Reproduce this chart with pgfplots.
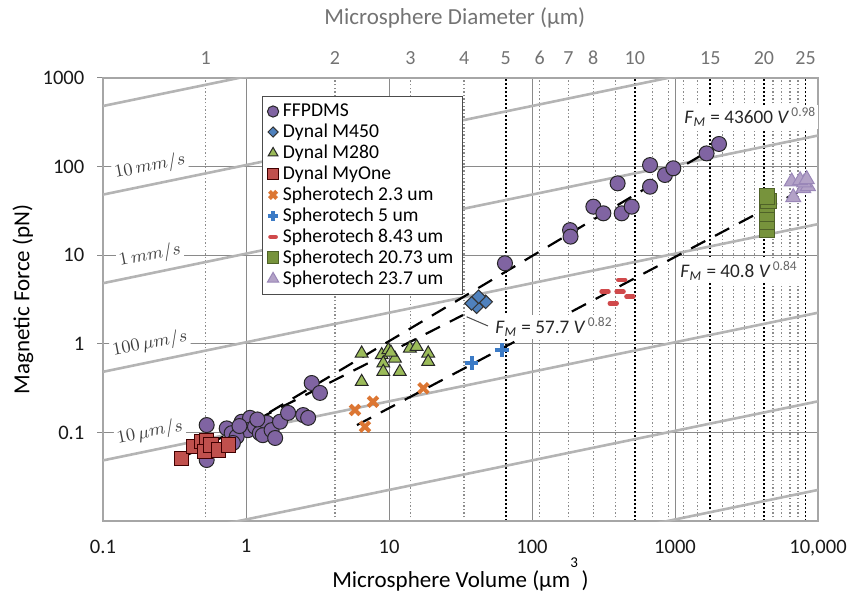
\documentclass[border=0pt]{standalone}
\usepackage{pgfplots}
\pgfplotsset{compat=1.18}
\usepackage{fontspec}
\setmainfont{Carlito}
\definecolor{cPurple}{HTML}{8064A2}
\definecolor{cBlue}{HTML}{4F81BD}
\definecolor{cGreen}{HTML}{9BBB59}
\definecolor{cRed}{HTML}{C0504D}
\definecolor{cOrange}{HTML}{DC7633}
\definecolor{cBlue2}{HTML}{3C7BC6}
\definecolor{cRed2}{HTML}{D0494B}
\definecolor{cOlive}{HTML}{77933C}
\definecolor{cOliveD}{HTML}{4F6228}
\definecolor{cLav}{HTML}{B3A2C7}
\definecolor{cLavD}{HTML}{9A87B8}
\definecolor{stokes}{HTML}{B4B4B4}
\definecolor{gridc}{HTML}{8A8A8A}
\definecolor{dotc}{HTML}{8C8C8C}
\begin{document}
\begin{tikzpicture}
% ---------- top axis: diameter scale with dotted grid ----------
\begin{axis}[
  name=top, scale only axis, width=357.5bp, height=221.5bp,
  xmode=log, ymode=log, xmin=0.1, xmax=10000, ymin=0.01, ymax=1000,
  axis x line*=top, axis y line=none, xtick pos=top,
  xminorticks=false, yminorticks=false,
  xtick={0.5236,4.18879,14.1372,33.5103,113.097,179.594,268.083,381.704,696.910,904.779,1150.35,1436.76,2144.66,2572.44,3053.63,3591.36,4849.05,5575.28,6370.63,7238.23},
  xticklabels={1,2,3,4,6,7,8,,,,,,,,,,,,,},
  extra x ticks={65.4498,523.599,1767.15,4188.79,8181.23},
  extra x tick labels={5,10,15,20,25},
  xmajorgrids=true,
  major grid style={draw=dotc, line width=0.6bp, dash pattern=on 0.7bp off 1.1bp},
  extra x tick style={grid=major, major grid style={draw=black, line width=0.95bp, dash pattern=on 0.9bp off 1.1bp}},
  xtick style={draw=none},
  axis line style={draw=gray!60, line width=0.6bp},
  xticklabel style={font=\fontsize{10bp}{12bp}\selectfont, text=black!55, yshift=3bp},
  xlabel={Microsphere Diameter (µm)},
  xlabel style={font=\fontsize{11.5bp}{13bp}\selectfont, text=black!55, at={(axis description cs:0.492,1.135)}, anchor=center},
]
\addplot[draw=none, forget plot] coordinates {(1,1)};
\end{axis}
% ---------- main axis ----------
\begin{axis}[
  name=main, scale only axis, width=357.5bp, height=221.5bp,
  xmode=log, ymode=log, xmin=0.1, xmax=10000, ymin=0.01, ymax=1000,
  xminorticks=false, yminorticks=false,
  xtick={0.1,1,10,100,1000,10000},
  xticklabels={0.1,1,10,100,1000,{10,000}},
  ytick={0.1,1,10,100,1000},
  yticklabels={0.1,1,10,100,1000},
  xtick pos=bottom, ytick pos=left,
  grid=major, grid style={draw=gridc, line width=0.5bp},
  axis line style={draw=gray!70, line width=0.6bp},
  xtick style={draw=none},
  ytick style={draw=gridc, line width=0.5bp},
  tick align=outside, major tick length=2.8bp,
  ticklabel style={font=\fontsize{10.3bp}{12bp}\selectfont, text=black!90},
  xticklabel style={yshift=-3bp},
  yticklabel style={xshift=-3bp},
  xlabel={Microsphere Volume (µm\raisebox{0.85em}{\fontsize{7.5bp}{8bp}\selectfont 3}\,)},
  xlabel style={font=\fontsize{11.5bp}{13bp}\selectfont, at={(axis description cs:0.5,-0.149)}, anchor=base},
  ylabel={Magnetic Force (pN)},
  ylabel style={font=\fontsize{11.5bp}{13bp}\selectfont, at={(axis description cs:-0.112,0.5)}, anchor=center},
  legend style={at={(rel axis cs:0.222,0.959)}, anchor=north west, draw=black!70, line width=0.5bp, fill=white,
    font=\fontsize{9.8bp}{10.6bp}\selectfont, inner xsep=2.5bp, inner ysep=1.5bp, row sep=-1.8bp},
  legend cell align=left,
  legend image code/.code={\draw[mark repeat=2,mark phase=2,#1, every mark/.append style={scale=0.75}] plot coordinates {(0bp,0bp) (3.7bp,0bp) (7.4bp,0bp)};},
]
% Stokes drag constant-velocity lines
\addplot[draw=stokes, line width=1.3bp, forget plot] coordinates {(0.1,483) (10000,22420)};
\addplot[draw=stokes, line width=1.3bp, forget plot] coordinates {(0.1,48.3) (10000,2242)};
\addplot[draw=stokes, line width=1.3bp, forget plot] coordinates {(0.1,4.83) (10000,224.2)};
\addplot[draw=stokes, line width=1.3bp, forget plot] coordinates {(0.1,0.483) (10000,22.42)};
\addplot[draw=stokes, line width=1.3bp, forget plot] coordinates {(0.1,0.0483) (10000,2.242)};
\addplot[draw=stokes, line width=1.3bp, forget plot] coordinates {(0.1,0.00483) (10000,0.2242)};
\addplot[draw=stokes, line width=1.3bp, forget plot] coordinates {(0.1,0.000483) (10000,0.02242)};

% FFPDMS
\addplot[only marks, mark=*, mark size=3.75bp, mark options={fill=cPurple, draw=black!85, line width=0.5bp}] coordinates {
(0.531,0.121) (0.531,0.0488) (0.733,0.111) (0.794,0.098) (0.933,0.132) (1.067,0.146) (1.03,0.106)
(1.156,0.116) (1.25,0.098) (1.40,0.128) (1.31,0.093) (1.51,0.106) (1.60,0.0865) (1.73,0.132)
(1.97,0.166) (2.51,0.157) (2.72,0.146) (2.88,0.361) (3.29,0.279) (0.861,0.0895) (0.81,0.076)
(0.9,0.118) (1.2,0.14)
(64.7,8.1) (184.5,19.2) (186,16.2) (268.6,35.3) (315.5,29.7) (397,64.7) (424,29.7) (498,35.3)
(669,104) (669,59.3) (851,80.4) (973,95.7) (1663,141) (2031,180)};
\addlegendentry{FFPDMS}
% Dynal M450
\addplot[only marks, mark=square*, mark size=2.4bp, mark options={rotate=45, fill=cBlue, draw=black!80, line width=0.5bp}] coordinates {
(41.0,2.62) (37.8,2.86) (47.4,2.98) (42.3,3.40)};
\addlegendentry{Dynal M450}
% Dynal M280
\addplot[only marks, mark=triangle*, mark size=3.7bp, mark options={fill=cGreen, draw=black!85, line width=0.5bp}] coordinates {
(6.44,0.78) (6.44,0.373) (8.89,0.748) (9.12,0.603) (9.12,0.484) (9.89,0.851) (11.0,0.685)
(11.9,0.484) (14.0,0.889) (15.6,0.929) (18.8,0.78) (18.8,0.628) (10.3,0.80)};
\addlegendentry{Dynal M280}
% Dynal MyOne
\addplot[only marks, mark=square*, mark size=3.6bp, mark options={fill=cRed, draw=black!75!red, line width=0.5bp}] coordinates {
(0.355,0.051) (0.428,0.069) (0.49,0.0786) (0.53,0.08) (0.516,0.0605) (0.57,0.072) (0.64,0.0632) (0.752,0.072)};
\addlegendentry{Dynal MyOne}
% Spherotech 2.3
\addplot[only marks, mark=x, mark size=3.4bp, mark options={draw=cOrange, line width=2bp}] coordinates {
(5.78,0.179) (7.73,0.222) (6.79,0.116) (17.4,0.315)};
\addlegendentry{Spherotech 2.3 um}
% Spherotech 5
\addplot[only marks, mark=+, mark size=3.4bp, mark options={draw=cBlue2, line width=2bp}] coordinates {
(37.8,0.603) (61.4,0.851)};
\addlegendentry{Spherotech 5 um}
% Spherotech 8.43
\addplot[only marks, mark=-, mark size=1.7bp, mark options={draw=cRed2, line width=2.3bp, line cap=round}] coordinates {
(324,3.87) (370,2.87) (413,3.87) (424,5.25) (484,3.40)};
\addlegendentry{Spherotech 8.43 um}
% Spherotech 20.73
\addplot[only marks, mark=square*, mark size=3.9bp, mark options={fill=cOlive, draw=cOliveD, line width=0.5bp}] coordinates {
(4395,19.2) (4395,23.9) (4395,29.7) (4395,36.9) (4500,41) (4395,45.7)};
\addlegendentry{Spherotech 20.73 um}
% Spherotech 23.7
\addplot[only marks, mark=triangle*, mark size=4.3bp, mark options={fill=cLav, draw=cLavD, line width=0.5bp}] coordinates {
(6714,45) (7889,56.9) (8500,60) (6546,67.6) (8000,66) (7500,70) (8337,72)};
\addlegendentry{Spherotech 23.7 um}

% power-law fits
\addplot[black, line width=1.1bp, dash pattern=on 8bp off 5.5bp, forget plot] coordinates {(0.476,0.0574) (1905,166)};
\addplot[black, line width=1.1bp, dash pattern=on 8bp off 5.5bp, forget plot] coordinates {(0.374,0.054) (32.9,2.11)};
\addplot[black, line width=1.1bp, dash pattern=on 8bp off 5.5bp, forget plot] coordinates {(5.97,0.121) (7245,51.7)};

% leader
\draw[black!70, line width=0.5bp] (axis cs:34.9,2.02) -- (axis cs:49.2,1.59);

% velocity labels
\node[rotate=11, fill=white, inner sep=1bp, text=black!75, font=\fontsize{9bp}{9bp}\selectfont] at (axis cs:0.213,100) {$10\,mm/s$};
\node[rotate=11, fill=white, inner sep=1bp, text=black!75, font=\fontsize{9bp}{9bp}\selectfont] at (axis cs:0.213,10) {$1\,mm/s$};
\node[rotate=11, fill=white, inner sep=1bp, text=black!75, font=\fontsize{9bp}{9bp}\selectfont] at (axis cs:0.213,1) {$100\,\mu m/s$};
\node[rotate=11, fill=white, inner sep=1bp, text=black!75, font=\fontsize{9bp}{9bp}\selectfont] at (axis cs:0.213,0.1) {$10\,\mu m/s$};

% fit equations
\node[anchor=west, fill=white, inner sep=1bp, text=black!85, font=\fontsize{9.6bp}{10bp}\selectfont] at (axis cs:1119,363) {\textit{F}\textsubscript{\textit{M}} = 43600 \textit{V}\textsuperscript{\textcolor{black!60}{\,0.98}}};
\node[anchor=west, fill=white, inner sep=1bp, text=black!85, font=\fontsize{9.6bp}{10bp}\selectfont] at (axis cs:1050,6.64) {\textit{F}\textsubscript{\textit{M}} = 40.8 \textit{V}\textsuperscript{\textcolor{black!60}{\,0.84}}};
\node[anchor=west, fill=white, inner sep=1bp, text=black!85, font=\fontsize{9.6bp}{10bp}\selectfont] at (axis cs:53.3,1.55) {\textit{F}\textsubscript{\textit{M}} = 57.7 \textit{V}\textsuperscript{\textcolor{black!60}{\,0.82}}};
\end{axis}
\pgfresetboundingbox
\path[use as bounding box] ([shift={(-51.5bp,-35.5bp)}]main.south west) rectangle ([shift={(373.5bp,260.5bp)}]main.south west);
\end{tikzpicture}
\end{document}
